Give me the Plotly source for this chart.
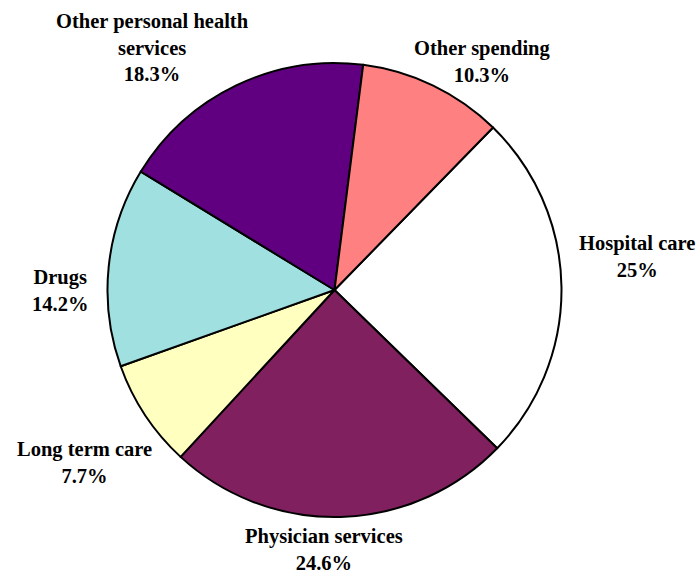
import plotly.graph_objects as go

# Share of health spending by category
categories = [
    "Hospital care",
    "Physician services",
    "Long term care",
    "Drugs",
    "Other personal health<br>services",
    "Other spending",
]
shares = [25.0, 24.6, 7.7, 14.2, 18.3, 10.3]
colors = ["#FFFFFF", "#80205F", "#FFFFC0", "#A0E0E0", "#600080", "#FF8080"]

# label anchor points (pixels from the top-left of the 699x573 canvas)
W, H = 699, 573
label_xy = [
    (637, 257),
    (324, 549),
    (84, 462),
    (60, 290),
    (152, 48),
    (482, 62),
]

cx, cy, r = 334.5, 290, 227

fig = go.Figure(
    go.Pie(
        labels=categories,
        values=shares,
        sort=False,
        direction="clockwise",
        rotation=44.3,
        marker=dict(colors=colors, line=dict(color="#000000", width=2)),
        textinfo="none",
        hoverinfo="skip",
        showlegend=False,
        domain=dict(
            x=[(cx - r) / W, (cx + r) / W],
            y=[(H - cy - r) / H, (H - cy + r) / H],
        ),
    )
)

for name, val, (px, py) in zip(categories, shares, label_xy):
    lines = f"{name}<br>{val:g}%".split("<br>")
    fig.add_annotation(
        x=px / W,
        y=1 - py / H,
        xref="paper",
        yref="paper",
        xanchor="center",
        yanchor="middle",
        text="<br>".join(f"<b>{ln}</b>" for ln in lines),
        showarrow=False,
        align="center",
        font=dict(family="Liberation Serif, 'Times New Roman', serif", size=20.5, color="#000000"),
    )

fig.update_layout(
    width=W,
    height=H,
    margin=dict(l=0, r=0, t=0, b=0),
    paper_bgcolor="#FFFFFF",
    plot_bgcolor="#FFFFFF",
)

fig.write_html("out.html")
